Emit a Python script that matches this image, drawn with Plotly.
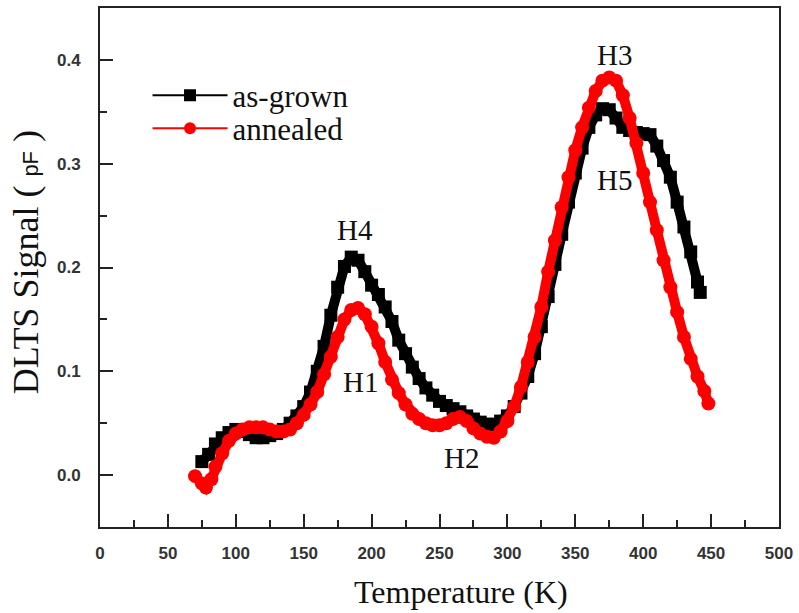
import plotly.graph_objects as go

temp_grown = [75, 80, 85, 90, 95, 100, 105, 110, 115, 120, 125, 130, 135, 140, 145, 150,
              155, 160, 165, 170, 175, 180, 185, 190, 195, 200, 205, 210, 215, 220, 225,
              230, 235, 240, 245, 250, 255, 260, 265, 270, 275, 280, 285, 290, 295, 300,
              305, 310, 315, 320, 325, 330, 335, 340, 345, 350, 355, 360, 365, 370, 375,
              380, 385, 390, 395, 400, 405, 410, 415, 420, 425, 430, 435, 440, 442]
sig_grown = [0.013, 0.020, 0.030, 0.036, 0.041, 0.044, 0.042, 0.039, 0.036, 0.036, 0.038,
             0.040, 0.044, 0.050, 0.057, 0.066, 0.080, 0.100, 0.124, 0.154, 0.181, 0.201,
             0.210, 0.207, 0.196, 0.183, 0.174, 0.162, 0.148, 0.130, 0.117, 0.104, 0.093,
             0.084, 0.077, 0.071, 0.067, 0.064, 0.061, 0.057, 0.054, 0.051, 0.049, 0.049,
             0.052, 0.057, 0.066, 0.079, 0.095, 0.117, 0.143, 0.172, 0.203, 0.232, 0.263,
             0.291, 0.315, 0.335, 0.347, 0.353, 0.352, 0.344, 0.335, 0.332, 0.330, 0.329,
             0.328, 0.317, 0.303, 0.287, 0.263, 0.239, 0.215, 0.186, 0.176]

temp_ann = [70, 75, 78, 82, 85, 90, 95, 100, 105, 110, 115, 120, 125, 130, 135, 140, 145,
            150, 155, 160, 165, 170, 175, 180, 185, 190, 195, 200, 205, 210, 215, 220, 225,
            230, 235, 240, 245, 250, 255, 260, 265, 270, 275, 280, 285, 290, 295, 300, 305,
            310, 315, 320, 325, 330, 335, 340, 345, 350, 355, 360, 365, 370, 375, 380, 385,
            390, 395, 400, 405, 410, 415, 420, 425, 430, 435, 440, 445, 448]
sig_ann = [-0.001, -0.008, -0.012, -0.004, 0.008, 0.021, 0.033, 0.040, 0.044, 0.046, 0.046,
           0.046, 0.044, 0.042, 0.042, 0.044, 0.050, 0.058, 0.068, 0.080, 0.097, 0.114,
           0.133, 0.150, 0.159, 0.161, 0.155, 0.143, 0.127, 0.109, 0.092, 0.079, 0.068,
           0.059, 0.054, 0.050, 0.048, 0.048, 0.050, 0.054, 0.056, 0.052, 0.045, 0.040,
           0.037, 0.036, 0.042, 0.052, 0.066, 0.085, 0.109, 0.133, 0.162, 0.196, 0.226,
           0.258, 0.287, 0.313, 0.335, 0.354, 0.370, 0.380, 0.383, 0.380, 0.366, 0.344,
           0.320, 0.291, 0.263, 0.236, 0.207, 0.181, 0.157, 0.133, 0.112, 0.095, 0.081, 0.069]

series_names = ["as-grown", "annealed"]
peak_labels = ["H4", "H1", "H2", "H3", "H5"]
peak_x = [188, 192, 266, 379, 379]
peak_y = [0.236, 0.090, 0.016, 0.405, 0.284]

serif = "Liberation Serif, Times New Roman, serif"
sans = "Liberation Sans, Arial, sans-serif"

fig = go.Figure()
fig.add_trace(go.Scatter(
    x=temp_grown, y=sig_grown, name=series_names[0], mode="lines+markers",
    line=dict(color="black", width=10),
    marker=dict(symbol="square", size=13, color="black"),
    showlegend=False,
))
fig.add_trace(go.Scatter(
    x=temp_ann, y=sig_ann, name=series_names[1], mode="lines+markers",
    line=dict(color="#ff0000", width=10),
    marker=dict(symbol="circle", size=14, color="#ff0000"),
    showlegend=False,
))
# legend entries (thin line + marker, like the reference legend)
fig.add_trace(go.Scatter(
    x=[None], y=[None], name=series_names[0], mode="lines+markers",
    line=dict(color="black", width=2),
    marker=dict(symbol="square", size=12, color="black"),
    legend="legend",
))
fig.add_trace(go.Scatter(
    x=[None], y=[None], name=series_names[1], mode="lines+markers",
    line=dict(color="#ff0000", width=2),
    marker=dict(symbol="circle", size=12, color="#ff0000"),
    legend="legend2",
))

for t, px_, py_ in zip(peak_labels, peak_x, peak_y):
    fig.add_annotation(x=px_, y=py_, text=t, showarrow=False,
                       font=dict(family=serif, size=29, color="#111"))

fig.add_annotation(xref="paper", yref="paper", x=0.531, y=-0.163, text="Temperature (K)",
                   showarrow=False, xanchor="center", yanchor="bottom",
                   font=dict(family=serif, size=32, color="#111"))
fig.add_annotation(xref="paper", yref="paper", x=-0.109, y=0.51,
                   text="DLTS Signal ( <span style='font-family:Liberation Sans;font-size:22px'>pF</span> )",
                   showarrow=False, textangle=-90, xanchor="center", yanchor="middle",
                   font=dict(family=serif, size=36, color="#111"))

axis_common = dict(
    showline=True, linecolor="#222", linewidth=2, mirror=True,
    ticks="inside", tickcolor="#222", tickwidth=2, ticklen=13,
    showgrid=False, zeroline=False,
    tickfont=dict(family=sans, size=17, color="#333", weight="bold"),
)

fig.update_xaxes(range=[0, 500], dtick=50, tick0=0,
                 minor=dict(ticks="inside", ticklen=7, tickwidth=2, tickcolor="#222", dtick=25),
                 ticklabelstandoff=10, **axis_common)
fig.update_yaxes(range=[-0.05, 0.45], dtick=0.1, tick0=0, tickformat=".1f",
                 minor=dict(ticks="inside", ticklen=7, tickwidth=2, tickcolor="#222", dtick=0.05),
                 ticklabelstandoff=14, **axis_common)

legend_style = dict(xanchor="left", yanchor="middle", bgcolor="rgba(0,0,0,0)",
                    font=dict(family=serif, size=31, color="#111"), borderwidth=0,
                    itemwidth=75)
fig.update_layout(
    width=799, height=613,
    margin=dict(l=100, r=17, t=6, b=86),
    plot_bgcolor="white", paper_bgcolor="white",
    showlegend=True,
    legend=dict(x=0.07, y=(527 - 94) / 521, **legend_style),
    legend2=dict(x=0.07, y=(527 - 127) / 521, **legend_style),
)

fig.write_html("out.html")
